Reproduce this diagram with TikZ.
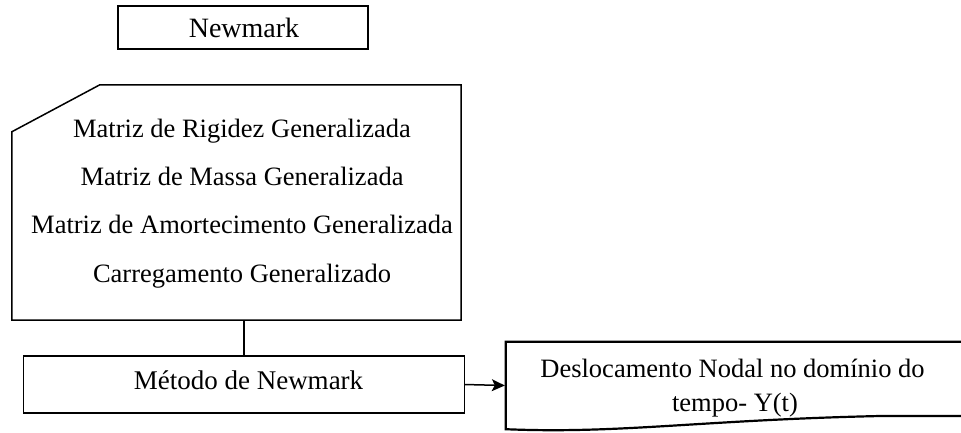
\documentclass[tikz,border=0pt]{standalone}
\usepackage{fontspec}
\setmainfont{Liberation Serif}
\usetikzlibrary{arrows.meta}
\begin{document}
\begin{tikzpicture}[x=1pt,y=-1pt,
  box/.style={draw, line width=1.5pt, inner sep=0pt, outer sep=0pt},
  txt/.style={inner sep=0pt, anchor=base},
  cardfont/.style={font=\fontsize{26.5}{30}\selectfont},
  conn/.style={line width=1.5pt}]
\useasboundingbox (0,0) rectangle (961,432);
% Newmark title
\node[box, minimum width=250pt, minimum height=43pt] (title) at (243,27.5) {};
\node[txt, font=\fontsize{28}{32}\selectfont] (titletext) at (244,37) {Newmark};
% card
\node[inner sep=0pt, minimum width=449pt, minimum height=235pt] (card) at (236.5,202.5) {};
\draw[conn] (card.south west) -- ([yshift=-47pt]card.north west) -- ([xshift=88pt]card.north west) -- (card.north east) -- (card.south east) -- cycle;
\node[txt, cardfont] (l1) at (242,137) {Matriz de Rigidez Generalizada};
\node[txt, cardfont] (l2) at (242,185) {Matriz de Massa Generalizada};
\node[txt, cardfont] (l3) at (242,233) {Matriz de Amortecimento Generalizada};
\node[txt, cardfont] (l4) at (242,282) {Carregamento Generalizado};
% Metodo
\node[box, minimum width=441pt, minimum height=57pt] (metodo) at (244,384.5) {};
\node[txt, font=\fontsize{27}{31}\selectfont] (metodotext) at (248.5,389) {Método de Newmark};
% Deslocamento
\node[inner sep=0pt, minimum width=458pt, minimum height=87pt] (desloc) at (735,385.5) {};
\draw[line width=2.2pt] (desloc.north east) -- (desloc.north west) -- (desloc.south west)
  .. controls (620,434) and (700,420) .. (880,416) -- (desloc.south east |- 0,416);
\node[txt, font=\fontsize{26.5}{30}\selectfont] (d1) at (732.5,377) {Deslocamento Nodal no domínio do};
\node[txt, font=\fontsize{26.5}{30}\selectfont] (d2) at (735,411) {tempo- Y(t)};
% connectors
\draw[conn] (metodo.north) -- (metodo.north |- card.south);
\draw[conn, -{Stealth[length=13pt,width=12pt,inset=3pt]}] (metodo.east) -- ([xshift=-1pt]desloc.west);
\end{tikzpicture}
\end{document}
